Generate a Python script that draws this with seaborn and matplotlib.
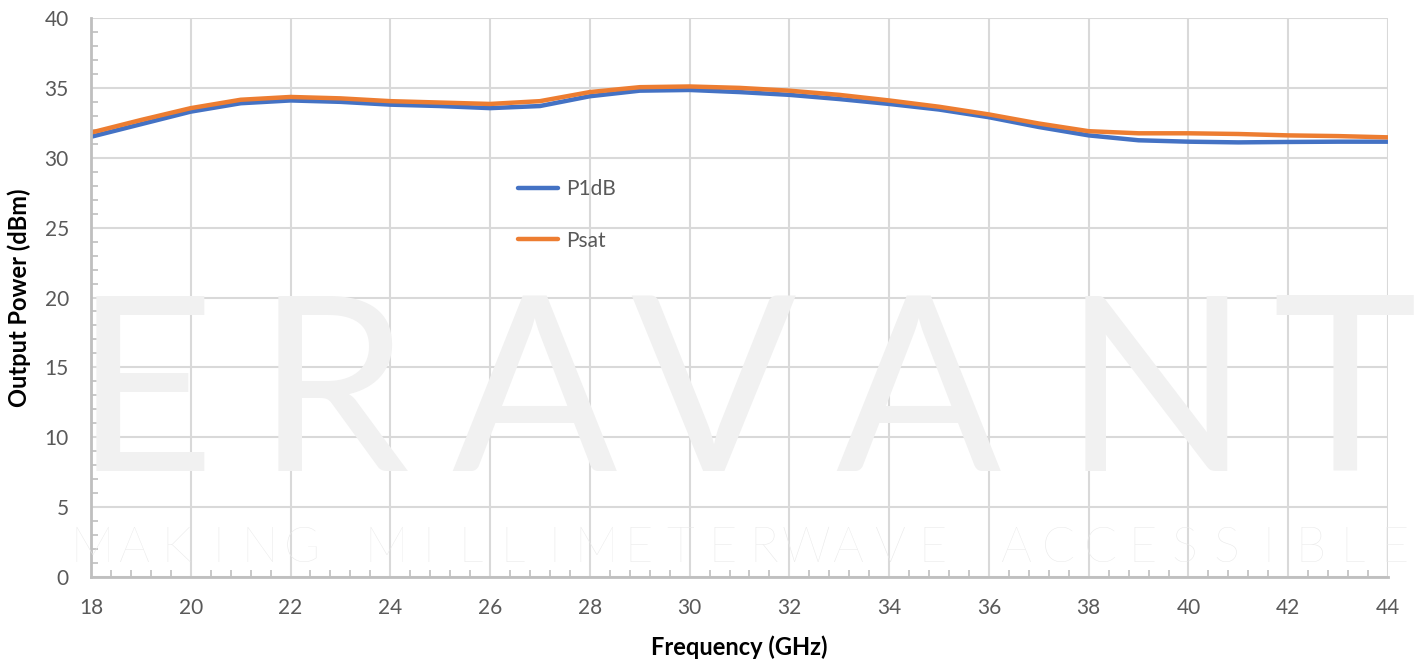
import pandas as pd
import matplotlib
matplotlib.use("Agg")
import matplotlib.pyplot as plt
from matplotlib.ticker import MultipleLocator
import seaborn as sns

# data
freq = list(range(18, 45))
p1db = [31.5, 32.4, 33.3, 33.9, 34.1, 34.0, 33.8, 33.7, 33.55, 33.7, 34.4, 34.8, 34.85,
        34.7, 34.5, 34.2, 33.85, 33.45, 32.9, 32.2, 31.6, 31.25, 31.15, 31.1, 31.13, 31.15, 31.15]
psat = [31.8, 32.7, 33.55, 34.15, 34.35, 34.25, 34.05, 33.95, 33.85, 34.05, 34.7, 35.05, 35.1,
        35.0, 34.8, 34.5, 34.1, 33.65, 33.1, 32.45, 31.9, 31.75, 31.75, 31.7, 31.6, 31.55, 31.46]
series_names = ["P1dB", "Psat"]
series_colors = ["#4472C4", "#ED7D31"]
x_ticks = list(range(18, 45, 2))
y_ticks = list(range(0, 41, 5))

df = pd.concat([
    pd.DataFrame({"Frequency": freq, "Power": p1db, "Series": "P1dB"}),
    pd.DataFrame({"Frequency": freq, "Power": psat, "Series": "Psat"}),
])

sns.set_theme(style="whitegrid")
plt.rcParams["font.family"] = ["Lato", "DejaVu Sans"]

fig = plt.figure(figsize=(14.18, 6.61), dpi=100)
ax = fig.add_axes([91 / 1418, 84 / 661, 1297 / 1418, 559 / 661])
ax.set_facecolor("none")

# watermark behind the plot
wm_color = "#f1f1f1"
for ch, xpx in zip("ERAVANT", [74, 256, 451, 630, 835, 1063, 1272]):
    fig.text(xpx / 1418, (661 - 471) / 661, ch, fontsize=176, color=wm_color,
             ha="left", va="baseline", zorder=0)
sub = "MAKING MILLIMETERWAVE ACCESSIBLE"
for i, ch in enumerate(sub):
    if ch == " ":
        continue
    fig.text((92 + i * 42) / 1418, (661 - 562) / 661, ch, fontsize=35, color="#e8e8e8",
             fontweight="light", ha="center", va="baseline", zorder=0)

sns.lineplot(data=df, x="Frequency", y="Power", hue="Series", palette=series_colors,
             hue_order=series_names, linewidth=3.2, ax=ax, legend=True)

ax.set_xlim(18, 44)
ax.set_ylim(0, 40)
ax.set_xticks(x_ticks)
ax.set_yticks(y_ticks)
ax.xaxis.set_minor_locator(MultipleLocator(0.4))
ax.yaxis.set_minor_locator(MultipleLocator(1))
ax.grid(True, which="major", color="#d9d9d9", linewidth=1.5)
ax.grid(False, which="minor")
ax.tick_params(axis="both", which="major", length=0, labelsize=15, labelcolor="#595959")
ax.tick_params(axis="x", which="major", pad=15)
ax.tick_params(axis="y", which="major", pad=16)
ax.tick_params(axis="both", which="minor", direction="in", length=5, width=1.2,
               color="#bfbfbf", bottom=True, left=True)

for side in ["top", "right"]:
    ax.spines[side].set_visible(False)
for side in ["left", "bottom"]:
    ax.spines[side].set_color("#bfbfbf")
    ax.spines[side].set_linewidth(2)

ax.set_xlabel("Frequency (GHz)", fontsize=17, fontweight="bold", color="black", labelpad=13)
ax.set_ylabel("Output Power (dBm)", fontsize=17, fontweight="bold", color="black", labelpad=10)

leg = ax.legend(loc="upper left", bbox_to_anchor=(0.315, 0.745), frameon=False,
                fontsize=15, handlelength=1.9, handletextpad=0.4, labelspacing=1.5)
for t in leg.get_texts():
    t.set_color("#595959")
for h in leg.get_lines():
    h.set_linewidth(3.2)

fig.savefig("out.png", dpi=100)
